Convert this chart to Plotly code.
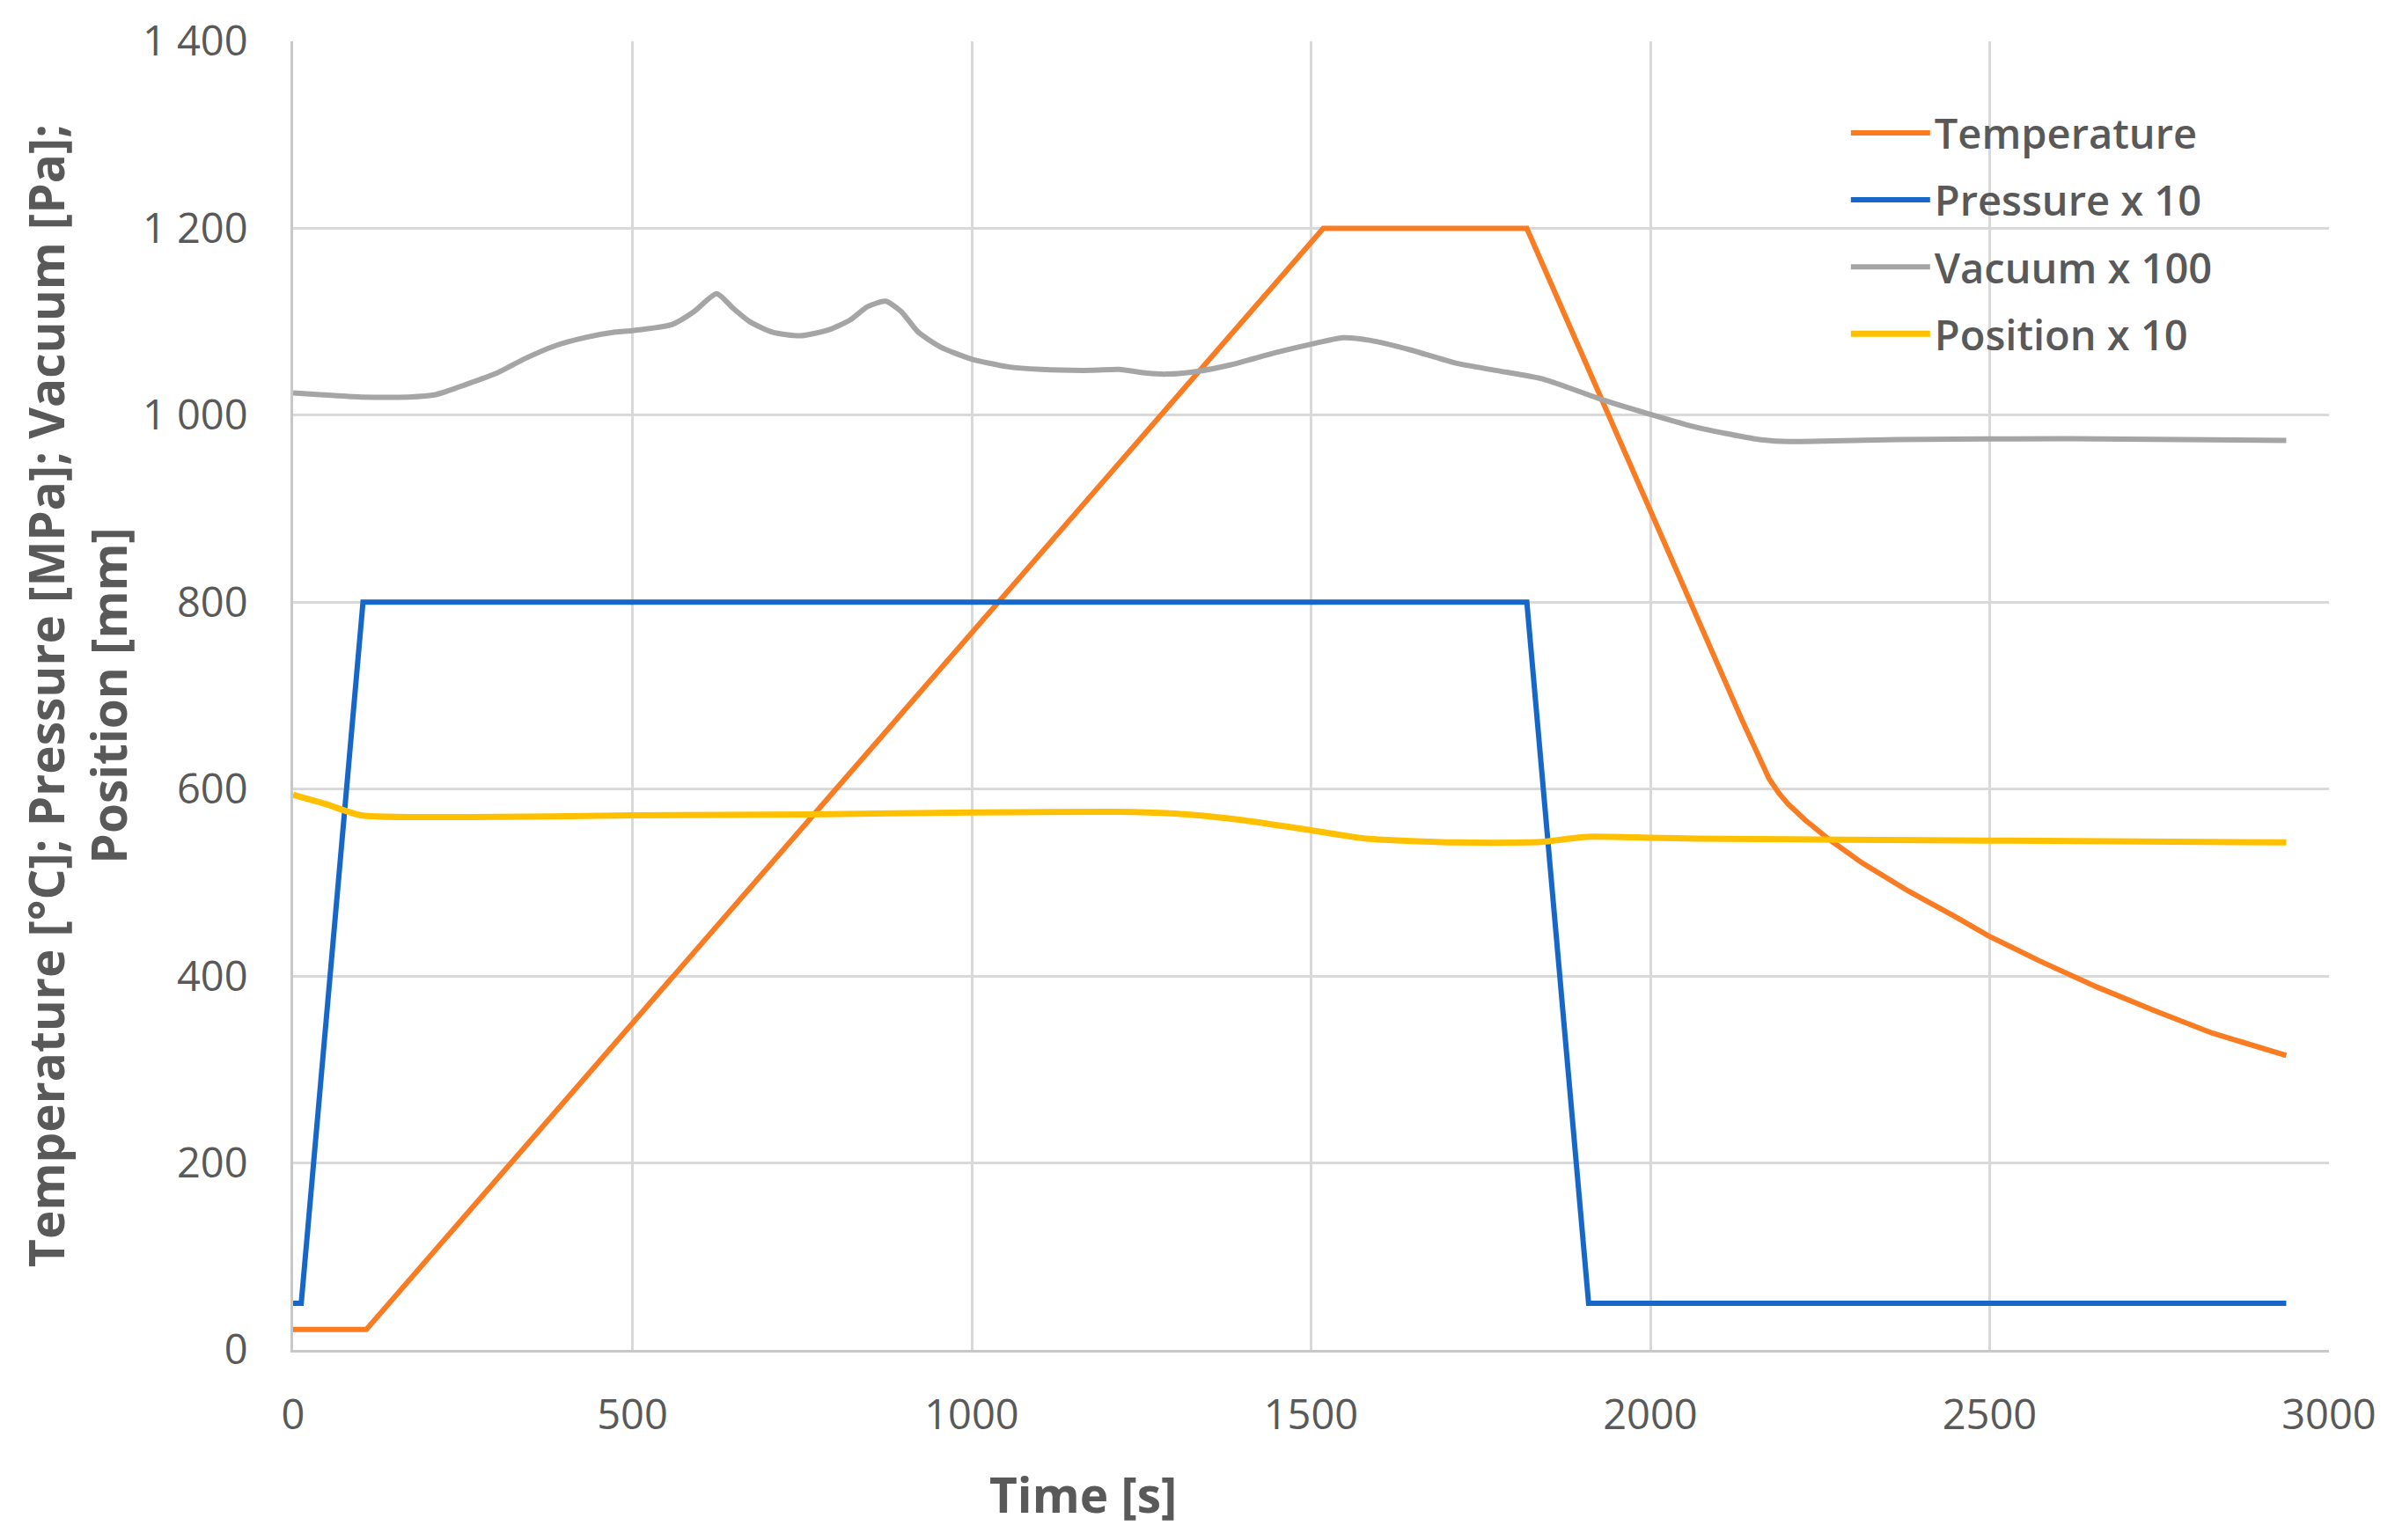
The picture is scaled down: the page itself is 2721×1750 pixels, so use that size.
import plotly.graph_objects as go

# ---- data ----
temp_t = [0, 108, 1518, 1818, 2135, 2160, 2175, 2190, 2203, 2228, 2262, 2312, 2380, 2448, 2498, 2574, 2659, 2743, 2828, 2937]
temp_v = [22, 22, 1200, 1200, 674, 634, 611, 595, 584, 567, 547, 521, 491, 464, 443, 416, 388, 363, 339, 315]

pres_t = [0, 12, 103, 1818, 1909, 2937]
pres_v = [50, 50, 800, 800, 50, 50]

vac_t = [0, 40, 100, 170, 210, 255, 300, 340, 385, 430, 475, 500, 558, 591, 624, 649, 673, 706, 747,
         788, 821, 846, 873, 896, 921, 954, 1000, 1052, 1102, 1176, 1217, 1258, 1287, 1333, 1382,
         1448, 1500, 1547, 1588, 1646, 1712, 1772, 1840, 1932, 2000, 2068, 2152, 2194, 2363, 2617, 2937]
vac_v = [1024, 1022, 1019.5, 1019.5, 1022, 1033, 1045, 1060, 1074, 1083, 1089, 1090.5, 1097, 1111, 1130,
         1114, 1100, 1089, 1085, 1091, 1102, 1116, 1122, 1111, 1089, 1073, 1060, 1052, 1049, 1048, 1049,
         1045, 1044, 1047, 1054, 1067, 1076, 1083, 1080, 1070, 1056, 1048, 1039, 1016, 1001, 987, 975,
         972, 974, 975, 973]

pos_t = [0, 48, 100, 259, 500, 762, 1000, 1238, 1317, 1397, 1500, 1582, 1714, 1820, 1847, 1906, 2000, 2069, 2500, 2937]
pos_v = [594, 584, 572, 570, 572, 573, 575, 575.5, 573, 567, 556, 547, 543, 543, 544, 549, 548, 547, 545, 543]

series_names = ["Temperature", "Pressure x 10", "Vacuum x 100", "Position x 10"]
x_ticks = [0, 500, 1000, 1500, 2000, 2500, 3000]
y_ticks = [0, 200, 400, 600, 800, 1000, 1200, 1400]
x_title = "Time [s]"
y_title = "Temperature [°C]; Pressure [MPa]; Vacuum [Pa];<br>Position [mm]"

FONT = "Open Sans"
TXT = "#595959"

fig = go.Figure()
fig.add_trace(go.Scatter(x=temp_t, y=temp_v, name=series_names[0], mode="lines", legendgroup="a",
                         line=dict(color="#F97B22", width=6)))
fig.add_trace(go.Scatter(x=pres_t, y=pres_v, name=series_names[1], mode="lines", legendgroup="b",
                         line=dict(color="#1767C8", width=6)))
fig.add_trace(go.Scatter(x=vac_t, y=vac_v, name=series_names[2], mode="lines", legendgroup="c",
                         line=dict(color="#A5A5A5", width=6, shape="spline", smoothing=0.6)))
fig.add_trace(go.Scatter(x=pos_t, y=pos_v, name=series_names[3], mode="lines", legendgroup="d",
                         line=dict(color="#FFC000", width=7, shape="spline", smoothing=0.6)))

fig.update_layout(
    width=2721, height=1750,
    margin=dict(l=325, r=83, t=39, b=224, autoexpand=False),
    paper_bgcolor="white", plot_bgcolor="white",
    separators=". ",
    font=dict(family=FONT, color=TXT, size=46),
    legend=dict(
        x=0.763, y=0.955, xanchor="left", yanchor="top",
        font=dict(family=FONT, size=47, color=TXT, weight=600),
        bgcolor="rgba(0,0,0,0)", tracegroupgap=12, itemwidth=90,
        traceorder="grouped",
    ),
    xaxis=dict(
        range=[0, 3000], tickvals=x_ticks, showgrid=True, gridcolor="#D9D9D9", gridwidth=3,
        showline=True, linecolor="#C8C8C8", linewidth=3, zeroline=False, ticks="",
        ticklabelstandoff=31, tickfont=dict(family=FONT, size=47, color=TXT),
    ),
    yaxis=dict(
        range=[0, 1400], tickvals=y_ticks, separatethousands=True, showgrid=True, gridcolor="#D9D9D9",
        gridwidth=3, showline=True, linecolor="#C8C8C8", linewidth=3, zeroline=False, ticks="",
        ticklabelstandoff=39, tickfont=dict(family=FONT, size=47, color=TXT),
        title=dict(text=y_title, font=dict(family=FONT, size=55, color=TXT, weight="bold"), standoff=0),
    ),
    annotations=[dict(
        text=x_title, xref="paper", yref="paper", x=0.388, y=0, xanchor="center", yanchor="middle",
        yshift=-163, showarrow=False, font=dict(family=FONT, size=55, color=TXT, weight="bold"),
    )],
)

fig.write_html("out.html")
